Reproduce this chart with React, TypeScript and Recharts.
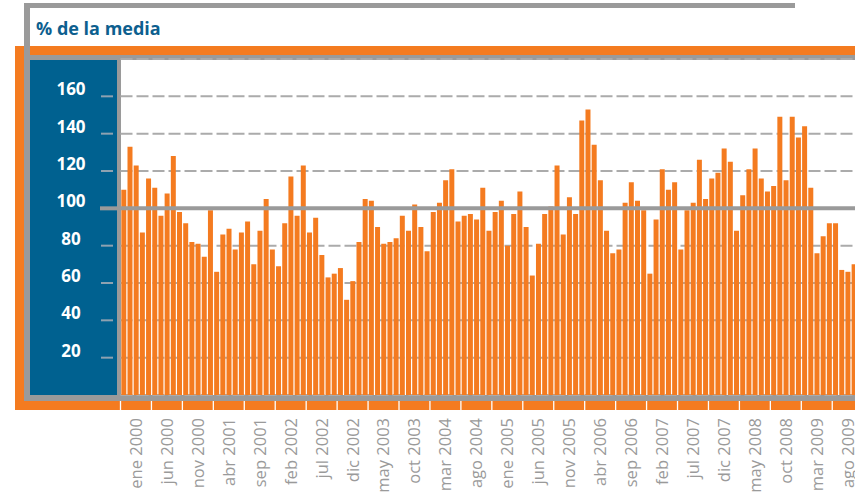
import { BarChart, Bar, XAxis, YAxis, CartesianGrid, ReferenceLine } from "recharts";

// monthly index, % of the average, ene 2000 .. nov 2009
const monthNames = ["ene", "feb", "mar", "abr", "may", "jun", "jul", "ago", "sep", "oct", "nov", "dic"];
const startYear = 2000;

const indexValues = [
  110, 133, 123, 87, 116, 111, 96, 108, 128, 98, 92, 82,
  81, 74, 99, 66, 86, 89, 78, 87, 93, 70, 88, 105,
  78, 69, 92, 117, 96, 123, 87, 95, 75, 63, 65, 68,
  51, 61, 82, 105, 104, 90, 81, 82, 84, 96, 88, 102,
  90, 77, 98, 103, 115, 121, 93, 96, 97, 94, 111, 88,
  98, 104, 80, 97, 109, 90, 64, 81, 97, 101, 123, 86,
  106, 97, 147, 153, 134, 115, 88, 76, 78, 103, 114, 104,
  99, 65, 94, 121, 110, 114, 78, 99, 103, 126, 105, 116,
  119, 132, 125, 88, 107, 121, 132, 116, 109, 112, 149, 115,
  149, 138, 144, 111, 76, 85, 92, 92, 67, 66, 70,
];

const yTicks = [20, 40, 60, 80, 100, 120, 140, 160];

const data = indexValues.map((v, i) => ({
  month: `${monthNames[i % 12]} ${startYear + Math.floor(i / 12)}`,
  value: v,
}));

const ORANGE = "#f47b20";
const GREY = "#9a9a9a";
const BLUE = "#006190";

const CHART_W = 857;
const CHART_H = 494;
const PLOT_LEFT = 120.5;
const PLOT_TOP = 59;
const PLOT_BOTTOM = 395;
const BAND = (CHART_W - PLOT_LEFT) / indexValues.length;

function XTick(props: any) {
  const { x, payload } = props;
  const sepX = x - BAND / 2;
  const labelX = x + 2 * BAND;
  return (
    <g>
      <line x1={sepX} x2={sepX} y1={401} y2={410} stroke="#fff" strokeWidth={1.3} />
      <text
        transform={`translate(${labelX},418) rotate(-90)`}
        textAnchor="end"
        dy="0.36em"
        fill={GREY}
        fontSize={16.5}
        fontFamily="Open Sans"
      >
        {payload.value}
      </text>
    </g>
  );
}

function YTick(props: any) {
  const { y, payload } = props;
  const isHundred = payload.value === 100;
  return (
    <g>
      {isHundred ? (
        <line x1={100} x2={121} y1={y} y2={y} stroke={GREY} strokeWidth={4} />
      ) : (
        <line x1={101} x2={113} y1={y} y2={y} stroke="#8ea2b1" strokeWidth={2} />
      )}
      <text
        x={71}
        y={y - 1}
        textAnchor="middle"
        fill="#fff"
        fontSize={17}
        fontWeight={700}
        fontFamily="Open Sans"
      >
        {payload.value}
      </text>
    </g>
  );
}

const box = (left: number, top: number, width: number, height: number, bg: string) => (
  <div style={{ position: "absolute", left, top, width, height, background: bg }} />
);

export default function App() {
  return (
    <div
      style={{
        position: "absolute",
        left: 0,
        top: 0,
        width: 855,
        height: 494,
        overflow: "hidden",
        background: "#fff",
        fontFamily: "Open Sans",
      }}
    >
      {/* frame */}
      {box(15, 46, 845, 9, ORANGE)}
      {box(15, 46, 9.5, 364, ORANGE)}
      {box(15, 400.5, 845, 9.5, ORANGE)}
      {box(24, 3, 771, 5, GREY)}
      {box(24, 3, 5.5, 397.5, GREY)}
      {box(24, 55, 836, 5, GREY)}
      {box(29.5, 60, 87.5, 335, BLUE)}
      {box(116.5, 60, 4.5, 336, GREY)}
      {box(24, 395, 836, 5.5, GREY)}
      <div
        style={{
          position: "absolute",
          left: 36,
          top: 19,
          fontSize: 18,
          lineHeight: "18px",
          fontWeight: 700,
          color: "#0d5f8f",
          whiteSpace: "nowrap",
        }}
      >
        % de la media
      </div>
      <div style={{ position: "absolute", left: 0, top: 0 }}>
        <BarChart
          width={CHART_W}
          height={CHART_H}
          data={data}
          margin={{ top: PLOT_TOP, right: 0, left: 0, bottom: 0 }}
          barCategoryGap="13%"
        >
          <CartesianGrid
            horizontal
            vertical={false}
            stroke="#ababab"
            strokeWidth={2}
            strokeDasharray="12 4"
          />
          <XAxis
            dataKey="month"
            height={CHART_H - PLOT_BOTTOM}
            interval={4}
            tick={<XTick />}
            tickLine={false}
            axisLine={false}
          />
          <YAxis
            width={PLOT_LEFT}
            domain={[0, 180]}
            ticks={yTicks}
            interval={0}
            tick={<YTick />}
            tickLine={false}
            axisLine={false}
          />
          <Bar dataKey="value" fill={ORANGE} isAnimationActive={false} />
          <ReferenceLine y={100} stroke={GREY} strokeWidth={4} />
        </BarChart>
      </div>
    </div>
  );
}
